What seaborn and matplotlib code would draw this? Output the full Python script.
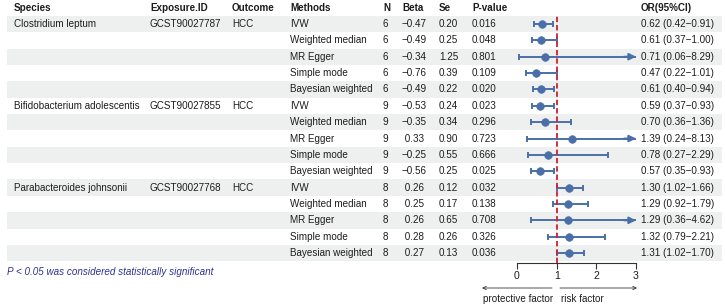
import numpy as np
import pandas as pd
import matplotlib
matplotlib.use("Agg")
import matplotlib.pyplot as plt
from matplotlib.patches import Rectangle
import seaborn as sns

# ---------------- data ----------------
species = ["Clostridium leptum", "Bifidobacterium adolescentis", "Parabacteroides johnsonii"]
exposure_ids = ["GCST90027787", "GCST90027855", "GCST90027768"]
outcome = "HCC"
methods = ["IVW", "Weighted median", "MR Egger", "Simple mode", "Bayesian weighted"]
n_snps = [6, 6, 6, 6, 6, 9, 9, 9, 9, 9, 8, 8, 8, 8, 8]
beta = [-0.47, -0.49, -0.34, -0.76, -0.49,
        -0.53, -0.35, 0.33, -0.25, -0.56,
        0.26, 0.25, 0.26, 0.28, 0.27]
se = [0.20, 0.25, 1.25, 0.39, 0.22,
      0.24, 0.34, 0.90, 0.55, 0.25,
      0.12, 0.17, 0.65, 0.26, 0.13]
pval = [0.016, 0.048, 0.801, 0.109, 0.020,
        0.023, 0.296, 0.723, 0.666, 0.025,
        0.032, 0.138, 0.708, 0.326, 0.036]
odds = [0.62, 0.61, 0.71, 0.47, 0.61,
        0.59, 0.70, 1.39, 0.78, 0.57,
        1.30, 1.29, 1.29, 1.32, 1.31]
ci_low = [0.42, 0.37, 0.06, 0.22, 0.40,
          0.37, 0.36, 0.24, 0.27, 0.35,
          1.02, 0.92, 0.36, 0.79, 1.02]
ci_high = [0.91, 1.00, 8.29, 1.01, 0.94,
           0.93, 1.36, 8.13, 2.29, 0.93,
           1.66, 1.79, 4.62, 2.21, 1.70]
headers = ["Species", "Exposure.ID", "Outcome", "Methods", "N", "Beta", "Se", "P-value", "", "OR(95%CI)"]
x_ticks = [0, 1, 2, 3]
footnote = "P < 0.05 was considered statistically significant"
left_label = "protective factor"
right_label = "risk factor"

n_rows = len(odds)
rows = []
for i in range(n_rows):
    g = i // len(methods)
    first = (i % len(methods) == 0)
    rows.append({
        "row": i,
        "species": species[g] if first else "",
        "exposure": exposure_ids[g] if first else "",
        "outcome": outcome if first else "",
        "method": methods[i % len(methods)],
        "n": str(n_snps[i]),
        "beta": (f"{beta[i]:.2f}".replace("-", "\u2212") if beta[i] < 0 else f" {beta[i]:.2f}"),
        "se": f"{se[i]:.2f}",
        "p": f"{pval[i]:.3f}",
        "or": odds[i], "lo": ci_low[i], "hi": ci_high[i],
        "ortxt": f"{odds[i]:.2f} ({ci_low[i]:.2f}\u2212{ci_high[i]:.2f})",
    })
df = pd.DataFrame(rows)

# ---------------- style ----------------
sns.set_theme(style="white")
plt.rcParams["font.family"] = ["Liberation Sans", "DejaVu Sans"]
FS = 7.1
TXT = "#1c1c1c"
BLUE = "#4A6FA8"
RED = "#D0202F"
SHADE = "#EEEFEF"

W, H = 725, 308
fig = plt.figure(figsize=(W / 100, H / 100), dpi=100)
ROW0, ROWH = 24.0, 16.36


def r_of(y):
    return (y - ROW0) / ROWH


bg = fig.add_axes([0, 0, 1, 1])
bg.set_xlim(0, W)
bg.set_ylim(r_of(H), r_of(0))
bg.axis("off")

# row shading
for r in range(0, n_rows, 2):
    bg.add_patch(Rectangle((7, r - 0.5), 715, 1.0, color=SHADE, lw=0, zorder=0))

col_x = {"species": 14, "exposure": 150, "outcome": 232, "method": 290, "n": 383,
         "beta": 402, "se": 439, "p": 472, "ortxt": 641}
head_x = [14, 150, 232, 290, 383, 402, 439, 472, None, 641]
for h, x in zip(headers, head_x):
    if x is None or not h:
        continue
    bg.text(x, -1, h, ha="left", va="center", fontsize=FS, fontweight="bold", color=TXT)

for _, rw in df.iterrows():
    for key, x in col_x.items():
        bg.text(x, rw["row"], rw[key], ha="left", va="center", fontsize=FS, color=TXT)

bg.text(7, r_of(272), footnote, ha="left", va="center", fontsize=FS,
        style="italic", color="#2E3192")

# bottom direction arrows
ya = r_of(288)
bg.annotate("", xy=(482, ya), xytext=(552, ya),
            arrowprops=dict(arrowstyle="->", lw=0.6, color="#333333", shrinkA=0, shrinkB=0,
                            mutation_scale=6))
bg.annotate("", xy=(637, ya), xytext=(560, ya),
            arrowprops=dict(arrowstyle="->", lw=0.6, color="#333333", shrinkA=0, shrinkB=0,
                            mutation_scale=6))
bg.text(483, r_of(299), left_label, ha="left", va="center", fontsize=FS, color=TXT)
bg.text(561, r_of(299), right_label, ha="left", va="center", fontsize=FS, color=TXT)

# ---------------- forest ----------------
fx = fig.add_axes([517 / W, (H - 263) / H, 119 / W, (263 - 16) / H])
fx.set_facecolor("none")
xmax = x_ticks[-1]
hi_clip = np.minimum(df["hi"], xmax)
fx.hlines(df["row"], df["lo"], hi_clip, color=BLUE, lw=1.4, zorder=2, clip_on=False)
fx.scatter(df["lo"], df["row"], marker="|", s=24, color=BLUE, linewidths=1.4, zorder=2, clip_on=False)
inside = df[df["hi"] <= xmax]
fx.scatter(inside["hi"], inside["row"], marker="|", s=24, color=BLUE, linewidths=1.4, zorder=2,
           clip_on=False)
for _, rw in df[df["hi"] > xmax].iterrows():
    fx.annotate("", xy=(xmax, rw["row"]), xytext=(xmax - 0.3, rw["row"]),
                arrowprops=dict(arrowstyle="-|>", color=BLUE, lw=1.4, shrinkA=0, shrinkB=0,
                                mutation_scale=10), annotation_clip=False)
sns.scatterplot(data=df, x="or", y="row", ax=fx, color=BLUE, s=30, edgecolor=BLUE,
                linewidth=0.5, zorder=3, legend=False, clip_on=False)
fx.axvline(1, color=RED, ls=(0, (3, 1.6)), lw=1.3, zorder=4)

fx.set_xlim(0, xmax)
fx.set_ylim(r_of(263), r_of(16))
fx.set_xticks(x_ticks)
fx.set_xticklabels([str(t) for t in x_ticks])
fx.set_yticks([])
fx.set_xlabel("")
fx.set_ylabel("")
for s in ["top", "left", "right"]:
    fx.spines[s].set_visible(False)
fx.spines["bottom"].set_color("#333333")
fx.spines["bottom"].set_linewidth(0.8)
fx.tick_params(axis="x", bottom=True, direction="out", length=4.5, width=0.8,
               colors="#333333", labelsize=FS + 0.5, pad=1.5, labelcolor=TXT)

fig.savefig("out.png", dpi=100)
